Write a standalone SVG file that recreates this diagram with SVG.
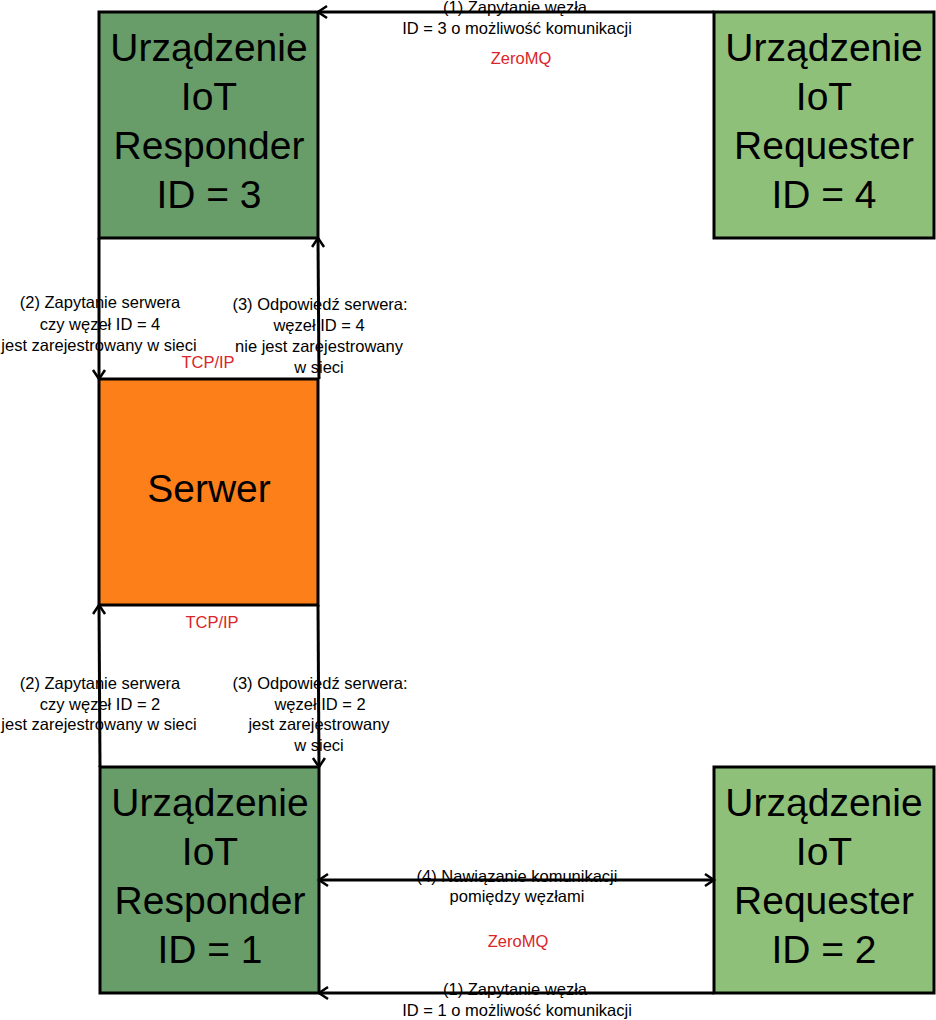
<svg xmlns="http://www.w3.org/2000/svg" width="936" height="1020" viewBox="0 0 936 1020">
<defs>
<style>
.box{stroke:#000;stroke-width:3}
.resp{fill:#689c69}
.req{fill:#8fc07a}
.srv{fill:#fc7f1a}
.nt{font-family:"Liberation Sans",Arial,sans-serif;font-size:39px;fill:#000;text-anchor:middle}
.lt{font-family:"Liberation Sans",Arial,sans-serif;font-size:16.5px;fill:#000;text-anchor:middle}
.rt{font-family:"Liberation Sans",Arial,sans-serif;font-size:16.5px;fill:#d9262a;text-anchor:middle}
.edge{stroke:#000;stroke-width:3;fill:none}
</style>
<marker id="arr" markerUnits="userSpaceOnUse" markerWidth="16" markerHeight="16" viewBox="0 0 16 16" refX="13" refY="8" orient="auto-start-reverse">
<path d="M4,2 L13,8 L4,14" fill="none" stroke="#000" stroke-width="2.5"/>
</marker>
</defs>
<g id="responder3">
<rect class="box resp" x="99" y="12" width="219" height="226"/>
<text class="nt" x="209" y="61">Urządzenie</text>
<text class="nt" x="209" y="110">IoT</text>
<text class="nt" x="209" y="159">Responder</text>
<text class="nt" x="209" y="208">ID = 3</text>
</g>
<g id="requester4">
<rect class="box req" x="714" y="12" width="220" height="226"/>
<text class="nt" x="824" y="61">Urządzenie</text>
<text class="nt" x="824" y="110">IoT</text>
<text class="nt" x="824" y="159">Requester</text>
<text class="nt" x="824" y="208">ID = 4</text>
</g>
<g id="server">
<rect class="box srv" x="99" y="379" width="219" height="226"/>
<text class="nt" x="209" y="502">Serwer</text>
</g>
<g id="responder1">
<rect class="box resp" x="100" y="767" width="219" height="226"/>
<text class="nt" x="210" y="816">Urządzenie</text>
<text class="nt" x="210" y="865">IoT</text>
<text class="nt" x="210" y="914">Responder</text>
<text class="nt" x="210" y="963">ID = 1</text>
</g>
<g id="requester2">
<rect class="box req" x="714" y="767" width="220" height="226"/>
<text class="nt" x="824" y="816">Urządzenie</text>
<text class="nt" x="824" y="865">IoT</text>
<text class="nt" x="824" y="914">Requester</text>
<text class="nt" x="824" y="963">ID = 2</text>
</g>
<g id="connectors">
<line class="edge" x1="714" y1="12" x2="318" y2="12" marker-end="url(#arr)"/>
<line class="edge" x1="99" y1="238" x2="99" y2="379" marker-end="url(#arr)"/>
<line class="edge" x1="319" y1="379" x2="318" y2="238" marker-end="url(#arr)"/>
<line class="edge" x1="100" y1="767" x2="99" y2="605" marker-end="url(#arr)"/>
<line class="edge" x1="318" y1="605" x2="319" y2="767" marker-end="url(#arr)"/>
<line class="edge" x1="319" y1="880" x2="714" y2="880" marker-start="url(#arr)" marker-end="url(#arr)"/>
<line class="edge" x1="714" y1="993" x2="319" y2="993" marker-end="url(#arr)"/>
<text class="lt" x="515" y="13">(1) Zapytanie węzła</text>
<text class="lt" x="517" y="34">ID = 3 o możliwość komunikacji</text>
<text class="rt" x="521" y="64">ZeroMQ</text>
<text class="lt" x="100" y="308">(2) Zapytanie serwera</text>
<text class="lt" x="100" y="330">czy węzeł ID = 4</text>
<text class="lt" x="99" y="351">jest zarejestrowany w sieci</text>
<text class="rt" x="208" y="368">TCP/IP</text>
<text class="lt" x="320" y="310">(3) Odpowiedź serwera:</text>
<text class="lt" x="319" y="331">węzeł ID = 4</text>
<text class="lt" x="319" y="352">nie jest zarejestrowany</text>
<text class="lt" x="319" y="373">w sieci</text>
<text class="rt" x="212" y="628">TCP/IP</text>
<text class="lt" x="100" y="689">(2) Zapytanie serwera</text>
<text class="lt" x="100" y="710">czy węzeł ID = 2</text>
<text class="lt" x="99" y="730">jest zarejestrowany w sieci</text>
<text class="lt" x="320" y="689">(3) Odpowiedź serwera:</text>
<text class="lt" x="320" y="710">węzeł ID = 2</text>
<text class="lt" x="319" y="730">jest zarejestrowany</text>
<text class="lt" x="319" y="751">w sieci</text>
<text class="lt" x="517" y="882">(4) Nawiązanie komunikacji</text>
<text class="lt" x="517" y="902">pomiędzy węzłami</text>
<text class="rt" x="518" y="947">ZeroMQ</text>
<text class="lt" x="515" y="995">(1) Zapytanie węzła</text>
<text class="lt" x="517" y="1016">ID = 1 o możliwość komunikacji</text>
</g>
</svg>
